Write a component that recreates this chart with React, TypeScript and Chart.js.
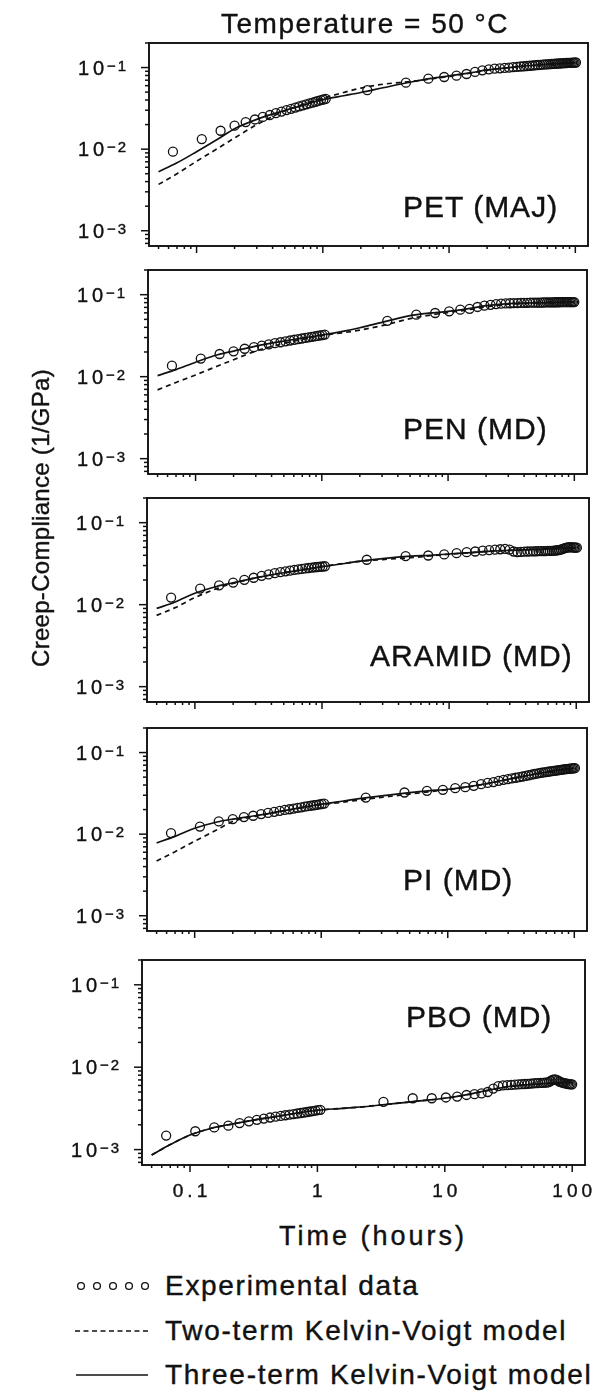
import React, { useEffect, useRef } from "react";
import { Chart, registerables } from "chart.js";

Chart.register(...registerables);

const FONT = '"Liberation Sans", Arial, Helvetica, sans-serif';
const INK = "#111";

// ---------- axes ----------
const X_MIN = 0.042;
const X_MAX = 126;
const Y_MIN = 0.00065;
const Y_MAX = 0.2;
const xTickValues = [0.1, 1, 10, 100];
const xTickLabels = ["0.1", "1", "10", "100"];
const yTickValues = [0.1, 0.01, 0.001];
const yTickExponents = ["\u22121", "\u22122", "\u22123"];
const minorMultipliers = [2, 3, 4, 5, 6, 7, 8, 9];

// ---------- sampling times (hours) ----------
const shortTimes = [0.065, 0.11, 0.155, 0.2, 0.245, 0.29, 0.335, 0.38, 0.425, 0.47, 0.515, 0.56, 0.605, 0.65, 0.695, 0.74, 0.785, 0.83, 0.875, 0.92, 0.965, 1.01, 1.055];
const longTimesA = [2.25, 4.55, 6.85, 9.15, 11.45, 13.75, 16.05, 18.35, 20.65, 22.95, 25.25, 27.55, 29.85, 32.15, 34.45, 36.75, 39.05, 41.35, 43.65, 45.95, 48.25, 50.55, 52.85, 55.15, 57.45, 59.75, 62.05, 64.35, 66.65, 68.95, 71.25, 73.55, 75.85, 78.15, 80.45, 82.75, 85.05, 87.35, 89.65, 91.95, 94.25, 96.55, 98.85, 101.15];
const longTimesB = [3.3, 5.6, 7.9, 10.2, 12.5, 14.8, 17.1, 19.4, 21.7, 24, 26.3, 28.6, 30.9, 33.2, 35.5, 37.8, 40.1, 42.4, 44.7, 47, 49.3, 51.6, 53.9, 56.2, 58.5, 60.8, 63.1, 65.4, 67.7, 70, 72.3, 74.6, 76.9, 79.2, 81.5, 83.8, 86.1, 88.4, 90.7, 93, 95.3, 97.6, 99.9];
const modelTimes = [0.05, 0.07, 0.1, 0.15, 0.2, 0.3, 0.5, 0.7, 1, 1.5, 2, 3, 5, 7, 10, 15, 20, 30, 50, 70, 100];

// ---------- PET (MAJ) ----------
const petShort = [0.0093, 0.0133, 0.0168, 0.0194, 0.0215, 0.0231, 0.0248, 0.0262, 0.0276, 0.0289, 0.0301, 0.0312, 0.0323, 0.0334, 0.0344, 0.0354, 0.0363, 0.0372, 0.0381, 0.039, 0.0398, 0.0406, 0.0414];
const petLong = [0.0528, 0.0653, 0.0731, 0.0766, 0.0796, 0.0834, 0.0883, 0.0926, 0.095, 0.0968, 0.098, 0.099, 0.1, 0.101, 0.102, 0.103, 0.1038, 0.1045, 0.1052, 0.106, 0.1068, 0.1075, 0.108, 0.1086, 0.1091, 0.1096, 0.11, 0.1105, 0.111, 0.1114, 0.1118, 0.1121, 0.1125, 0.1128, 0.1131, 0.1134, 0.1137, 0.1139, 0.1142, 0.1144, 0.1147, 0.1149, 0.1151, 0.1153];
const petTwoTerm = [0.0037, 0.005, 0.0071, 0.0104, 0.0137, 0.02, 0.0295, 0.0355, 0.042, 0.05, 0.056, 0.0625, 0.0675, 0.072, 0.078, 0.086, 0.093, 0.1, 0.107, 0.111, 0.114];
const petThreeTerm = [0.0053, 0.0068, 0.0093, 0.0135, 0.0178, 0.0232, 0.0298, 0.0347, 0.0405, 0.0455, 0.0495, 0.0565, 0.0665, 0.073, 0.079, 0.0865, 0.0935, 0.1, 0.1075, 0.1115, 0.115];

// ---------- PEN (MD) ----------
const penShort = [0.0136, 0.0166, 0.0189, 0.0204, 0.0219, 0.0229, 0.0239, 0.0248, 0.0256, 0.0263, 0.027, 0.0276, 0.0282, 0.0287, 0.0292, 0.0297, 0.0302, 0.0306, 0.031, 0.0314, 0.0318, 0.0322, 0.0326];
const penLong = [0.048, 0.057, 0.0598, 0.0626, 0.0656, 0.0672, 0.0708, 0.0734, 0.0752, 0.0768, 0.0776, 0.0782, 0.0786, 0.0789, 0.0791, 0.0793, 0.0795, 0.0796, 0.0798, 0.0799, 0.08, 0.0801, 0.0802, 0.0803, 0.0804, 0.0805, 0.0806, 0.0806, 0.0807, 0.0808, 0.0808, 0.0809, 0.0809, 0.081, 0.081, 0.0811, 0.0811, 0.0811, 0.0812, 0.0812, 0.0812, 0.0812, 0.0812];
const penTwoTerm = [0.0069, 0.0085, 0.0105, 0.0135, 0.0161, 0.0205, 0.0255, 0.0285, 0.0318, 0.0345, 0.037, 0.042, 0.051, 0.056, 0.0605, 0.066, 0.071, 0.0765, 0.079, 0.08, 0.0805];
const penThreeTerm = [0.0103, 0.0122, 0.015, 0.0185, 0.0205, 0.0236, 0.0272, 0.0296, 0.0322, 0.036, 0.0395, 0.046, 0.0555, 0.0595, 0.0625, 0.068, 0.0735, 0.078, 0.0795, 0.0805, 0.081];

// ---------- ARAMID (MD) ----------
const aramidShort = [0.0122, 0.0157, 0.0172, 0.0186, 0.0201, 0.0213, 0.0225, 0.0234, 0.0242, 0.0249, 0.0255, 0.026, 0.0265, 0.0269, 0.0273, 0.0277, 0.028, 0.0283, 0.0286, 0.0288, 0.029, 0.0292, 0.0294];
const aramidLong = [0.0353, 0.0391, 0.0398, 0.041, 0.0425, 0.0437, 0.0445, 0.0455, 0.0462, 0.0468, 0.0474, 0.0478, 0.047, 0.0445, 0.0438, 0.044, 0.0443, 0.0445, 0.0446, 0.0447, 0.0448, 0.0449, 0.045, 0.045, 0.0451, 0.0452, 0.0453, 0.0454, 0.0456, 0.0458, 0.0461, 0.0465, 0.047, 0.0478, 0.0486, 0.0493, 0.0498, 0.0501, 0.0502, 0.0501, 0.05, 0.0498, 0.0497, 0.0496];
const aramidTwoTerm = [0.0074, 0.0092, 0.0122, 0.0158, 0.0182, 0.0212, 0.0246, 0.0267, 0.0292, 0.032, 0.0338, 0.0355, 0.0375, 0.0392, 0.0412, 0.0432, 0.0447, 0.046, 0.0472, 0.0482, 0.049];
const aramidThreeTerm = [0.009, 0.0108, 0.0138, 0.0168, 0.0185, 0.0212, 0.0245, 0.0265, 0.029, 0.0318, 0.034, 0.0365, 0.039, 0.04, 0.0415, 0.0432, 0.0447, 0.046, 0.0473, 0.0485, 0.0495];

// ---------- PI (MD) ----------
const piShort = [0.0103, 0.0124, 0.0143, 0.0153, 0.0162, 0.0168, 0.0176, 0.0182, 0.0188, 0.0193, 0.0198, 0.0202, 0.0206, 0.021, 0.0213, 0.0217, 0.022, 0.0223, 0.0226, 0.0229, 0.0232, 0.0234, 0.0237];
const piLong = [0.0281, 0.0324, 0.034, 0.0349, 0.0366, 0.0377, 0.0391, 0.041, 0.0425, 0.0435, 0.045, 0.0463, 0.0472, 0.0482, 0.0491, 0.05, 0.0509, 0.0518, 0.0527, 0.0537, 0.0546, 0.0553, 0.056, 0.0566, 0.0572, 0.0577, 0.0582, 0.0587, 0.0592, 0.0597, 0.0601, 0.0605, 0.0609, 0.0613, 0.0617, 0.0621, 0.0625, 0.0628, 0.0631, 0.0634, 0.0637, 0.064, 0.0642, 0.0644];
const piTwoTerm = [0.0047, 0.0061, 0.0082, 0.0113, 0.0143, 0.0165, 0.0192, 0.021, 0.023, 0.0247, 0.0262, 0.0283, 0.031, 0.033, 0.035, 0.0383, 0.0413, 0.0468, 0.0548, 0.0598, 0.0642];
const piThreeTerm = [0.0078, 0.0094, 0.0118, 0.0141, 0.0153, 0.0168, 0.0193, 0.0212, 0.0233, 0.0255, 0.0272, 0.0295, 0.0323, 0.034, 0.0355, 0.0385, 0.0415, 0.047, 0.055, 0.06, 0.0645];

// ---------- PBO (MD) ----------
const pboShort = [0.00148, 0.00167, 0.00186, 0.00195, 0.0021, 0.0022, 0.0023, 0.00238, 0.00245, 0.00251, 0.00256, 0.00261, 0.00266, 0.0027, 0.00274, 0.00278, 0.00282, 0.00286, 0.0029, 0.00293, 0.00297, 0.00301, 0.00304];
const pboLong = [0.0038, 0.0042, 0.0042, 0.00429, 0.0044, 0.0046, 0.0047, 0.0048, 0.005, 0.0055, 0.0059, 0.006, 0.00605, 0.0061, 0.00615, 0.0062, 0.00622, 0.00625, 0.00628, 0.00632, 0.00635, 0.0064, 0.00642, 0.00645, 0.00645, 0.00648, 0.0065, 0.0066, 0.0068, 0.007, 0.0071, 0.00705, 0.0069, 0.0067, 0.0066, 0.0065, 0.0064, 0.00635, 0.0063, 0.00625, 0.00622, 0.0062, 0.0062];
const pboTwoTerm = [0.00086, 0.00115, 0.0015, 0.00183, 0.002, 0.00225, 0.00255, 0.00278, 0.003, 0.00315, 0.00325, 0.00345, 0.00375, 0.00395, 0.0042, 0.00465, 0.0051, 0.00575, 0.0062, 0.0064, 0.0065];
const pboThreeTerm = [0.00086, 0.00115, 0.0015, 0.00183, 0.002, 0.00225, 0.00255, 0.00278, 0.003, 0.00315, 0.00325, 0.00345, 0.00375, 0.00395, 0.0042, 0.00465, 0.0051, 0.00575, 0.0062, 0.0064, 0.0065];

type PanelDef = {
  label: string;
  labelX: number;
  labelBase: number;
  left: number;
  top: number;
  right: number;
  bottom: number;
  shortY: number[];
  longT: number[];
  longY: number[];
  twoTerm: number[];
  threeTerm: number[];
  xLabels: boolean;
};

const panels: PanelDef[] = [
  { label: "PET (MAJ)", labelX: 403, labelBase: 217, left: 149, top: 43, right: 588, bottom: 246, shortY: petShort, longT: longTimesA, longY: petLong, twoTerm: petTwoTerm, threeTerm: petThreeTerm, xLabels: false },
  { label: "PEN (MD)", labelX: 403, labelBase: 439, left: 148, top: 270, right: 587, bottom: 474, shortY: penShort, longT: longTimesB, longY: penLong, twoTerm: penTwoTerm, threeTerm: penThreeTerm, xLabels: false },
  { label: "ARAMID (MD)", labelX: 370, labelBase: 666, left: 147, top: 498, right: 589, bottom: 702, shortY: aramidShort, longT: longTimesA, longY: aramidLong, twoTerm: aramidTwoTerm, threeTerm: aramidThreeTerm, xLabels: false },
  { label: "PI (MD)", labelX: 403, labelBase: 890, left: 147, top: 728, right: 587, bottom: 931, shortY: piShort, longT: longTimesA, longY: piLong, twoTerm: piTwoTerm, threeTerm: piThreeTerm, xLabels: false },
  { label: "PBO (MD)", labelX: 406, labelBase: 1027, left: 142, top: 960, right: 585, bottom: 1165, shortY: pboShort, longT: longTimesB, longY: pboLong, twoTerm: pboTwoTerm, threeTerm: pboThreeTerm, xLabels: true },
];

const PAD_TOP = 8;

const zip = (xs: number[], ys: number[]) => xs.map((x, i) => ({ x, y: ys[i] }));

const frameTicksPlugin = {
  id: "frameTicks",
  afterDraw(chart: any, _args: any, opts: any) {
    const { ctx, chartArea: a, scales } = chart;
    const xs = scales.x;
    const ys = scales.y;
    ctx.save();
    ctx.strokeStyle = INK;
    ctx.fillStyle = INK;
    ctx.lineWidth = 1.9;
    ctx.strokeRect(a.left, a.top, a.right - a.left, a.bottom - a.top);

    const seg = (x1: number, y1: number, x2: number, y2: number) => {
      ctx.beginPath();
      ctx.moveTo(x1, y1);
      ctx.lineTo(x2, y2);
      ctx.stroke();
    };

    ctx.lineWidth = 1.5;
    // y ticks (majors + minors)
    yTickValues.concat([1]).forEach((major) => {
      const base = major / 10;
      if (major <= ys.max && major >= ys.min) {
        const y = ys.getPixelForValue(major);
        seg(a.left - 8, y, a.left, y);
      }
      minorMultipliers.forEach((m) => {
        const v = base * m;
        if (v < ys.min || v > ys.max) return;
        const yy = ys.getPixelForValue(v);
        seg(a.left - 4, yy, a.left, yy);
      });
    });
    // x ticks (majors + minors)
    [0.01].concat(xTickValues).forEach((major) => {
      if (major >= xs.min && major <= xs.max) {
        const x = xs.getPixelForValue(major);
        seg(x, a.bottom, x, a.bottom + 7);
      }
      minorMultipliers.forEach((m) => {
        const v = major * m;
        if (v < xs.min || v > xs.max) return;
        const xx = xs.getPixelForValue(v);
        seg(xx, a.bottom, xx, a.bottom + 3);
      });
    });

    // y tick labels: "10" with superscript exponent
    ctx.textAlign = "left";
    ctx.textBaseline = "alphabetic";
    ctx.lineWidth = 0.4;
    yTickValues.forEach((v, i) => {
      const y = ys.getPixelForValue(v);
      ctx.font = `20px ${FONT}`;
      (ctx as any).letterSpacing = "4px";
      ctx.fillText("10", a.left - 71, y + 7);
      ctx.strokeText("10", a.left - 71, y + 7);
      ctx.font = `15px ${FONT}`;
      (ctx as any).letterSpacing = "2px";
      ctx.fillText(yTickExponents[i], a.left - 42, y + 3);
      ctx.strokeText(yTickExponents[i], a.left - 42, y + 3);
    });

    if (opts && opts.xLabels) {
      ctx.font = `19px ${FONT}`;
      (ctx as any).letterSpacing = "4px";
      ctx.textAlign = "center";
      xTickValues.forEach((v, i) => {
        const x = xs.getPixelForValue(v);
        ctx.fillText(xTickLabels[i], x + 2, a.bottom + 32);
        ctx.strokeText(xTickLabels[i], x + 2, a.bottom + 32);
      });
    }
    ctx.restore();
  },
};

function Panel({ def }: { def: PanelDef }) {
  const ref = useRef<HTMLCanvasElement | null>(null);
  const bottomSpace = def.xLabels ? 45 : 14;
  const h = PAD_TOP + (def.bottom - def.top) + bottomSpace;

  useEffect(() => {
    if (!ref.current) return;
    const exp = zip(shortTimes, def.shortY).concat(zip(def.longT, def.longY));
    const chart = new Chart(ref.current, {
      type: "scatter",
      data: {
        datasets: [
          {
            label: "Experimental data",
            data: exp,
            showLine: false,
            pointRadius: 4.5,
            pointBorderWidth: 1.3,
            pointBorderColor: INK,
            pointBackgroundColor: "rgba(0,0,0,0)",
            pointStyle: "circle",
          } as any,
          {
            label: "Two-term Kelvin-Voigt model",
            data: zip(modelTimes, def.twoTerm),
            showLine: true,
            borderColor: INK,
            borderWidth: 1.7,
            borderDash: [5, 4],
            pointRadius: 0,
            cubicInterpolationMode: "monotone",
            fill: false,
          } as any,
          {
            label: "Three-term Kelvin-Voigt model",
            data: zip(modelTimes, def.threeTerm),
            showLine: true,
            borderColor: INK,
            borderWidth: 1.7,
            pointRadius: 0,
            cubicInterpolationMode: "monotone",
            fill: false,
          } as any,
        ],
      },
      options: {
        responsive: false,
        maintainAspectRatio: false,
        animation: false,
        devicePixelRatio: 1,
        events: [],
        layout: { padding: { top: PAD_TOP, right: 598 - def.right, left: 0, bottom: 0 } },
        plugins: {
          legend: { display: false },
          tooltip: { enabled: false },
          title: { display: false },
          frameTicks: { xLabels: def.xLabels },
        } as any,
        scales: {
          x: {
            type: "logarithmic",
            min: X_MIN,
            max: X_MAX,
            ticks: { display: false },
            grid: { display: false },
            border: { display: false },
            afterFit: (s: any) => {
              s.height = bottomSpace;
            },
          },
          y: {
            type: "logarithmic",
            min: Y_MIN,
            max: Y_MAX,
            ticks: { display: false },
            grid: { display: false },
            border: { display: false },
            afterFit: (s: any) => {
              s.width = def.left;
            },
          },
        },
      } as any,
      plugins: [frameTicksPlugin as any],
    });
    return () => chart.destroy();
  }, []);

  return (
    <canvas
      ref={ref}
      width={598}
      height={h}
      style={{ position: "absolute", left: 0, top: def.top - PAD_TOP, width: 598, height: h }}
    />
  );
}

const textBase: React.CSSProperties = {
  position: "absolute",
  fontFamily: FONT,
  whiteSpace: "nowrap",
  color: INK,
  WebkitTextStroke: "0.4px #111",
};

function Txt(props: { x: number; base: number; size: number; spacing?: number; center?: boolean; children: React.ReactNode }) {
  const { x, base, size, spacing = 0, center = false, children } = props;
  return (
    <div
      style={{
        ...textBase,
        left: x,
        top: base - 0.8465 * size,
        fontSize: size,
        lineHeight: `${size}px`,
        letterSpacing: spacing,
        transform: center ? "translateX(-50%)" : undefined,
      }}
    >
      {children}
    </div>
  );
}

export default function App() {
  const legendCircles = [81, 97, 113, 129, 145];
  return (
    <div style={{ position: "absolute", left: 0, top: 0, width: 598, height: 1395, background: "#fff", overflow: "hidden" }}>
      {panels.map((p) => (
        <Panel key={p.label} def={p} />
      ))}
      {panels.map((p) => (
        <Txt key={p.label + "-lbl"} x={p.labelX} base={p.labelBase} size={30} spacing={1}>
          {p.label}
        </Txt>
      ))}
      <Txt x={365} base={34} size={28} spacing={1.5} center>
        Temperature = 50 °C
      </Txt>
      <div
        style={{
          ...textBase,
          left: 41,
          top: 518,
          fontSize: 24,
          lineHeight: "24px",
          letterSpacing: 0.3,
          transform: "translate(-50%, -50%) rotate(-90deg)",
        }}
      >
        Creep-Compliance (1/GPa)
      </div>
      <Txt x={373} base={1246} size={27} spacing={3} center>
        Time (hours)
      </Txt>
      <svg style={{ position: "absolute", left: 0, top: 1270 }} width={170} height={125}>
        {legendCircles.map((cx) => (
          <circle key={cx} cx={cx} cy={16} r={3.4} fill="none" stroke={INK} strokeWidth={1.3} />
        ))}
        <line x1={75} y1={61} x2={150} y2={61} stroke={INK} strokeWidth={1.4} strokeDasharray="5 3.5" />
        <line x1={76} y1={105} x2={148} y2={105} stroke={INK} strokeWidth={1.7} />
      </svg>
      <Txt x={165} base={1295.5} size={28} spacing={1.7}>
        Experimental data
      </Txt>
      <Txt x={165} base={1340.5} size={28} spacing={1.7}>
        Two-term Kelvin-Voigt model
      </Txt>
      <Txt x={165} base={1384.5} size={28} spacing={1.7}>
        Three-term Kelvin-Voigt model
      </Txt>
    </div>
  );
}
